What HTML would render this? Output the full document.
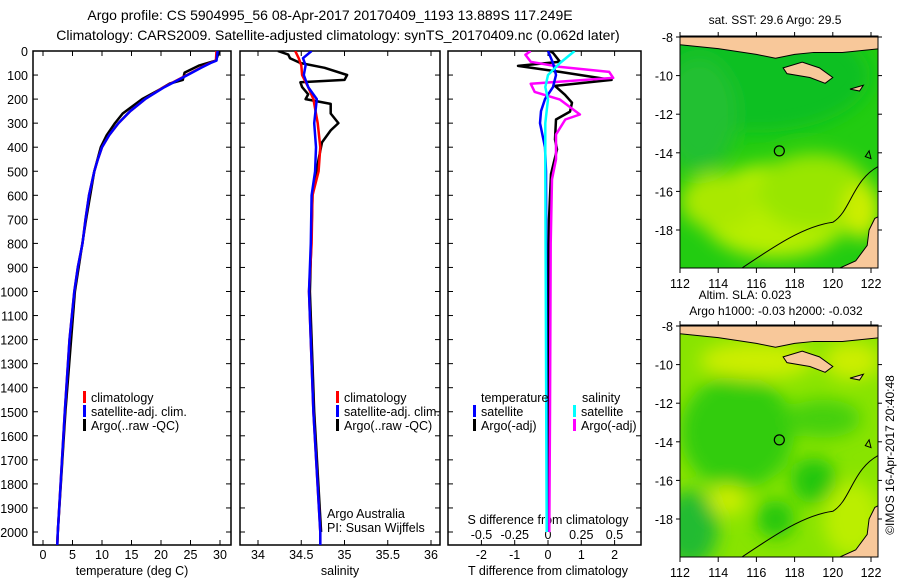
<!DOCTYPE html>
<html><head><meta charset="utf-8"><style>
body{margin:0;background:#fff;}
svg{display:block;font-family:"Liberation Sans",sans-serif;}
text{fill:#000;}
</style></head><body>
<svg id="s" width="900" height="580" viewBox="0 0 900 580">
<defs>
<filter id="bl" x="-50%" y="-50%" width="200%" height="200%"><feGaussianBlur stdDeviation="9"/></filter>
<clipPath id="c1"><rect x="680" y="36" width="198" height="232"/></clipPath>
<clipPath id="c2"><rect x="680" y="325" width="198" height="232"/></clipPath>
<clipPath id="p1"><rect x="33" y="51" width="198" height="494"/></clipPath>
<clipPath id="p2"><rect x="240" y="51" width="200" height="494"/></clipPath>
<clipPath id="p3"><rect x="448" y="51" width="193" height="494"/></clipPath>
</defs>
<text x="330" y="20" font-size="14" text-anchor="middle">Argo profile: CS 5904995_56 08-Apr-2017 20170409_1193 13.889S 117.249E</text>
<text x="338" y="40" font-size="14" text-anchor="middle">Climatology: CARS2009. Satellite-adjusted climatology: synTS_20170409.nc (0.062d later)</text>
<g id="g"></g>
</svg>
<script>
// ---- data ----
const tDepth=[0,40,50,70,100,150,200,250,300,350,400,450,500,600,700,800,900,1000,1200,1500,2000,2060];
const tClim=[29.4,29.3,28.3,26.7,24.4,20.5,17.3,14.8,12.8,11.2,10.0,9.3,8.7,7.8,7.2,6.7,5.9,5.3,4.5,3.7,2.5,2.4];
const tSat=[29.6,29.4,28.4,26.8,24.5,20.6,17.3,14.8,12.8,11.2,10.0,9.3,8.7,7.8,7.2,6.7,5.9,5.3,4.5,3.7,2.5,2.4];
const tArgoDepth=[0,20,40,60,90,120,135,160,200,260,300,350,400,500,700,1000,1500,2000,2060];
const tArgo=[29.9,29.6,29.3,26.5,24.0,23.7,21.5,19.8,16.8,13.5,12.2,10.8,9.8,8.7,7.3,5.4,3.8,2.5,2.4];
const sDepth=[0,30,60,100,150,200,300,400,500,600,800,1000,1500,2000,2060];
const sClim=[34.43,34.47,34.5,34.51,34.58,34.64,34.69,34.72,34.70,34.63,34.62,34.59,34.64,34.72,34.72];
const sSat=[34.62,34.52,34.55,34.53,34.58,34.68,34.65,34.67,34.66,34.62,34.61,34.59,34.64,34.72,34.72];
const sArgoDepth=[0,15,30,50,70,100,120,130,150,180,200,220,260,300,330,380,450,600,1000,1500,2000];
const sArgo=[34.23,34.35,34.37,34.49,34.77,35.03,35.0,34.49,34.51,34.58,34.55,34.84,34.84,34.93,34.84,34.74,34.70,34.63,34.60,34.65,34.73];
const dTDepth=[0,8,45,62,87,120,145,182,215,252,285,368,409,512,700,1000,1500,2000];
const dTArgo=[0.06,0.15,0.36,-0.9,0.36,1.91,0.21,0.51,0.72,0.66,0.24,0.21,0.27,0.09,0.03,0.01,0,-0.03];
const dTSatDepth=[0,50,100,150,200,250,300,400,500,2000];
const dTSat=[0,0.15,0.24,0.15,-0.09,-0.21,-0.24,-0.09,-0.06,-0.03];
const dSDepth=[0,16,45,66,87,112,136,170,202,264,285,347,450,533,800,1500,2000];
const dSArgo=[-0.13,-0.17,-0.13,0.09,0.46,0.49,-0.13,-0.10,0.09,0.24,0.13,0.06,0.06,0.03,0.02,0.015,0.01];
const dSSatDepth=[0,50,100,150,200,300,500,2000];
const dSSat=[0.2,0.09,0,-0.02,0,-0.02,-0.02,-0.01];
const depthTicks=[0,100,200,300,400,500,600,700,800,900,1000,1100,1200,1300,1400,1500,1600,1700,1800,1900,2000];
const tTicks=[0,5,10,15,20,25,30];
const sTicks=[34,34.5,35,35.5,36];
const dTTicks=[-2,-1,0,1,2];
const dSTicks=[-0.5,-0.25,0,0.25,0.5];
const dSTickLabels=['-0.5','-0.25','0','0.25','0.5'];
const latTicks=[-8,-10,-12,-14,-16,-18];
const lonTicks=[112,114,116,118,120,122];

const NS='http://www.w3.org/2000/svg';
const G=document.getElementById('g');
function mk(tag,at,parent){const e=document.createElementNS(NS,tag);for(const k in at)e.setAttribute(k,at[k]);(parent||G).appendChild(e);return e;}
const yD=d=>51+0.2405*d;
const xT=v=>43+5.9*v;
const xS=v=>258+86.5*(v-34);
const xdT=v=>548+33.3*v;
const xdS=v=>548+133*v;

function line(xs,ds,xf,col,w,clip,name){
  const pts=xs.map((v,i)=>xf(v).toFixed(1)+','+yD(ds[i]).toFixed(1)).join(' ');
  const p=mk('polyline',{points:pts,fill:'none',stroke:col,'stroke-width':w,'stroke-linejoin':'round','clip-path':'url(#'+clip+')'});
  
  
}
function panel(x,w,name){
  const r=mk('rect',{x:x,y:51,width:w,height:494,fill:'none',stroke:'#000','stroke-width':1.5});
  
  
  depthTicks.forEach(d=>{mk('line',{x1:x,x2:x+5,y1:yD(d),y2:yD(d),stroke:'#000'});mk('line',{x1:x+w,x2:x+w-5,y1:yD(d),y2:yD(d),stroke:'#000'});});
}
function xticks(ticks,xf,labels,y,name){
  ticks.forEach((t,i)=>{
    mk('line',{x1:xf(t),x2:xf(t),y1:545,y2:540,stroke:'#000'});
    mk('line',{x1:xf(t),x2:xf(t),y1:51,y2:56,stroke:'#000'});
    const e=mk('text',{x:xf(t),y:y,'font-size':12.5,'text-anchor':'middle'});e.textContent=labels?labels[i]:String(t);
    
    
  });
}
function txt(x,y,s,size,name,anchor){const e=mk('text',{x:x,y:y,'font-size':size,'text-anchor':anchor||'start'});e.textContent=s;
  
  return e;}
function leg(x,y,col,label,name){mk('rect',{x:x,y:y-11,width:3,height:12,fill:col});txt(x+8,y,label,12.5,name);}

// panel 1
panel(33,198,'temperature-panel');
depthTicks.forEach(d=>txt(28,yD(d)+5,String(d),12.5,'depth-tick-label','end'));
xticks(tTicks,xT,null,559,'temperature-tick-label');
txt(132,575,'temperature (deg C)',12.5,'temperature-axis-title','middle');
line(tArgo,tArgoDepth,xT,'#000',2.5,'p1','argo-temperature-line');
line(tClim,tDepth,xT,'#f00',2.5,'p1','clim-temperature-line');
line(tSat,tDepth,xT,'#00f',2.5,'p1','sat-temperature-line');
leg(83,402,'#f00','climatology','legend-climatology');
leg(83,416,'#00f','satellite-adj. clim.','legend-satellite');
leg(83,430,'#000','Argo(..raw -QC)','legend-argo');

// panel 2
panel(240,200,'salinity-panel');
xticks(sTicks,xS,null,559,'salinity-tick-label');
txt(340,575,'salinity',12.5,'salinity-axis-title','middle');
line(sArgo,sArgoDepth,xS,'#000',2.5,'p2','argo-salinity-line');
line(sClim,sDepth,xS,'#f00',2.5,'p2','clim-salinity-line');
line(sSat,sDepth,xS,'#00f',2.5,'p2','sat-salinity-line');
leg(336,402,'#f00','climatology','legend-climatology-2');
leg(336,416,'#00f','satellite-adj. clim.','legend-satellite-2');
leg(336,430,'#000','Argo(..raw -QC)','legend-argo-2');
txt(327,518,'Argo Australia',12.5,'institution-label');
txt(327,532,'PI: Susan Wijffels',12.5,'pi-label');

// panel 3
panel(448,193,'difference-panel');
xticks(dTTicks,xdT,null,559,'t-diff-tick-label');
dSTicks.forEach((t,i)=>{const e=txt(xdS(t),539,dSTickLabels[i],12.5,'s-diff-tick-label','middle');});
txt(548,524,'S difference from climatology',12.5,'s-diff-axis-title','middle');
txt(548,575,'T difference from climatology',12.5,'t-diff-axis-title','middle');
line(dTArgo,dTDepth,xdT,'#000',2.5,'p3','argo-t-diff-line');
line(dSArgo,dSDepth,xdS,'#f0f',2.5,'p3','argo-s-diff-line');
line(dTSat,dTSatDepth,xdT,'#00f',2.5,'p3','sat-t-diff-line');
line(dSSat,dSSatDepth,xdS,'#0ff',2.5,'p3','sat-s-diff-line');
txt(481,402,'temperature',12.5,'legend-temperature-heading');
leg(473,416,'#00f','satellite','legend-t-satellite');
leg(473,430,'#000','Argo(-adj)','legend-t-argo');
txt(582,402,'salinity',12.5,'legend-salinity-heading');
leg(573,416,'#0ff','satellite','legend-s-satellite');
leg(573,430,'#f0f','Argo(-adj)','legend-s-argo');

// maps
function map(top,clip,base,blobs,name){
  const g=mk('g',{'clip-path':'url(#'+clip+')'});
  
  
  const X=l=>680+19.1*(l-112), Y=la=>top+1+19.3*(-8-la);
  mk('rect',{x:680,y:top,width:198,height:232,fill:base},g);
  const bg=mk('g',{filter:'url(#bl)'},g);
  blobs.forEach(b=>mk('ellipse',{cx:X(b[0]),cy:Y(b[1]),rx:b[2]*19,ry:b[3]*19,fill:b[4]},bg));
  mk('path',{d:`M${X(112)},${Y(-8)} L${X(112)},${Y(-8.4)} L${X(114)},${Y(-8.6)} L${X(116)},${Y(-8.9)} L${X(117)},${Y(-9.1)} L${X(118)},${Y(-8.9)} L${X(119)},${Y(-8.8)} L${X(120.5)},${Y(-8.8)} L${X(122.5)},${Y(-8.6)} L${X(122.5)},${Y(-8)} Z`,fill:'#f8c89a',stroke:'#000','stroke-width':1},g);
  mk('path',{d:`M${X(117.4)},${Y(-9.6)} L${X(118.4)},${Y(-9.3)} L${X(119.3)},${Y(-9.6)} L${X(120)},${Y(-10.1)} L${X(119.6)},${Y(-10.4)} L${X(118.8)},${Y(-10.1)} L${X(117.6)},${Y(-9.9)} Z`,fill:'#f8c89a',stroke:'#000','stroke-width':1},g);
  mk('path',{d:`M${X(120.9)},${Y(-10.7)} L${X(121.6)},${Y(-10.5)} L${X(121.4)},${Y(-10.8)} Z`,fill:'#f8c89a',stroke:'#000'},g);
  mk('path',{d:`M${X(122.6)},${Y(-17.2)} L${X(122.2)},${Y(-17.4)} L${X(121.9)},${Y(-18)} L${X(121.8)},${Y(-18.8)} L${X(121.2)},${Y(-19.6)} L${X(120.3)},${Y(-20)} L${X(122.6)},${Y(-20)} Z`,fill:'#f8c89a',stroke:'#000'},g);
  mk('path',{d:`M${X(122.6)},${Y(-14.6)} C${X(121)},${Y(-15.3)} ${X(121)},${Y(-17)} ${X(120)},${Y(-17.6)} C${X(118.5)},${Y(-17.8)} ${X(117)},${Y(-18.8)} ${X(115.2)},${Y(-20)}`,fill:'none',stroke:'#000','stroke-width':1},g);
  mk('path',{d:`M${X(121.7)},${Y(-14.2)} L${X(121.9)},${Y(-13.9)} L${X(122)},${Y(-14.3)} Z`,fill:'none',stroke:'#000'},g);
  const c=mk('circle',{cx:X(117.2),cy:Y(-13.9),r:5,fill:'none',stroke:'#000','stroke-width':1.2});
  
  
  mk('rect',{x:680,y:top,width:198,height:232,fill:'none',stroke:'#000'});
  latTicks.forEach(l=>{mk('line',{x1:680,x2:676,y1:Y(l),y2:Y(l),stroke:'#000'});mk('line',{x1:878,x2:882,y1:Y(l),y2:Y(l),stroke:'#000'});txt(673,Y(l)+5,String(l),12.5,'latitude-tick-label','end');});
  lonTicks.forEach(l=>{mk('line',{x1:X(l),x2:X(l),y1:top+232,y2:top+237,stroke:'#000'});mk('line',{x1:X(l),x2:X(l),y1:top,y2:top-4,stroke:'#000'});txt(X(l),top+252,String(l),12.5,'longitude-tick-label','middle');});
}
map(36,'c1','#22cc11',[[116,-10,6,3,'#10c020'],[113,-12,2,3,'#20c030'],[117,-17,4,2.5,'#b8ee00'],[119,-16,3,2,'#99e600'],[114,-16.5,2,1.5,'#aae800'],[121.5,-17,1,1.5,'#ccee00']],'sst-map');
map(325,'c2','#88e400',[[115,-13.5,3,3,'#33cc11'],[119.5,-12.8,2,1,'#44d011'],[119,-16,1.2,1.2,'#22c611'],[117,-18,1,1,'#22c611'],[112.5,-18.5,1.5,2,'#22bb33'],[116,-9.8,3,1,'#ccee00'],[121,-9.8,1.5,1,'#ccee00'],[114.5,-17,1,0.8,'#ccee00'],[121,-18,1.5,2,'#bbee00']],'sla-map');
txt(775,24,'sat. SST: 29.6 Argo: 29.5',12,'sst-map-title','middle');
txt(745,299,'Altim. SLA: 0.023',12,'sla-map-title','middle');
txt(776,315,'Argo h1000: -0.03 h2000: -0.032',12,'sla-map-subtitle','middle');
const v=txt(0,0,'©IMOS 16-Apr-2017 20:40:48',12,'timestamp-label','middle');
v.setAttribute('transform','translate(894,455) rotate(-90)');
</script>
</body></html>
